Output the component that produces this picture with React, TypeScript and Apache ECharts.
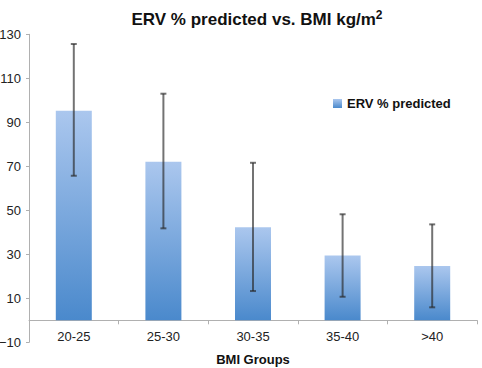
import React, { useEffect, useRef } from "react";
import * as echarts from "echarts";

const categories = ["20-25", "25-30", "30-35", "35-40", ">40"];
const meanValues = [95.3, 72.1, 42.3, 29.4, 24.7];
const errorLow = [65.7, 41.8, 13.3, 10.7, 5.9];
const errorHigh = [125.6, 103.0, 71.6, 48.2, 43.6];
const yTicks = { min: -10, max: 130, interval: 20 };

const FONT = "'Liberation Sans', Arial, Helvetica, sans-serif";

export default function App() {
  const ref = useRef<HTMLDivElement>(null);
  useEffect(() => {
    if (!ref.current) return;
    const chart = echarts.init(ref.current, undefined, { renderer: "svg" });
    const barGradient = new echarts.graphic.LinearGradient(0, 0, 0, 1, [
      { offset: 0, color: "#abc7ee" },
      { offset: 1, color: "#4a89cc" },
    ]);
    chart.setOption({
      animation: false,
      textStyle: { fontFamily: FONT },
      title: {
        text: "ERV % predicted vs. BMI kg/m{sup|2}",
        left: 252,
        textAlign: "center",
        top: 4,
        textStyle: {
          fontFamily: FONT,
          fontSize: 17,
          fontWeight: "bold",
          color: "#111",
          rich: {
            sup: {
              fontFamily: FONT,
              fontSize: 12,
              fontWeight: "bold",
              color: "#111",
              verticalAlign: "top",
              padding: [0, 0, 8, 0],
            },
          },
        },
      },
      legend: {
        data: ["ERV % predicted"],
        left: 328,
        top: 92,
        itemWidth: 9,
        itemHeight: 9,
        itemGap: 6,
        icon: "rect",
        textStyle: { fontFamily: FONT, fontSize: 13, fontWeight: "bold", color: "#111" },
      },
      grid: { left: 29, right: 5, top: 34.3, bottom: 25.7, containLabel: false, outerBoundsMode: "none" },
      xAxis: {
        type: "category",
        data: categories,
        name: "BMI Groups",
        nameLocation: "middle",
        nameGap: 11,
        nameTextStyle: { fontFamily: FONT, fontSize: 13, fontWeight: "bold", color: "#111" },
        axisLine: { onZero: true, lineStyle: { color: "#b0b0b0", width: 1 } },
        axisTick: { show: true, length: 4, lineStyle: { color: "#b0b0b0" } },
        axisLabel: { fontFamily: FONT, fontSize: 13, color: "#222", margin: -12 },
      },
      yAxis: {
        type: "value",
        min: yTicks.min,
        max: yTicks.max,
        interval: yTicks.interval,
        axisLine: { show: true, lineStyle: { color: "#b0b0b0", width: 1 } },
        axisTick: { show: true, length: 3, lineStyle: { color: "#b0b0b0" } },
        splitLine: { show: false },
        axisLabel: {
          fontFamily: FONT,
          fontSize: 13,
          color: "#222",
          margin: 8,
          formatter: (v: number) => String(v).replace("-", "\u2212"),
        },
      },
      series: [
        {
          name: "ERV % predicted",
          type: "bar",
          data: meanValues,
          barWidth: 36,
          itemStyle: { color: barGradient },
        },
        {
          name: "error",
          type: "custom",
          data: categories.map((_, i) => [i, errorLow[i], errorHigh[i]]),
          encode: { x: 0, y: [1, 2] },
          z: 10,
          renderItem: (params: any, api: any) => {
            const i = api.value(0);
            const lo = api.coord([i, api.value(1)]);
            const hi = api.coord([i, api.value(2)]);
            const half = 3;
            const style = { stroke: "rgba(40,40,40,0.65)", lineWidth: 2 };
            return {
              type: "group",
              children: [
                { type: "line", shape: { x1: lo[0], y1: lo[1], x2: hi[0], y2: hi[1] }, style },
                { type: "line", shape: { x1: hi[0] - half, y1: hi[1], x2: hi[0] + half, y2: hi[1] }, style },
                { type: "line", shape: { x1: lo[0] - half, y1: lo[1], x2: lo[0] + half, y2: lo[1] }, style },
              ],
            };
          },
        },
      ],
    });
    return () => chart.dispose();
  }, []);
  return <div ref={ref} style={{ width: 482, height: 368, position: "absolute", left: 0, top: 0 }} />;
}
